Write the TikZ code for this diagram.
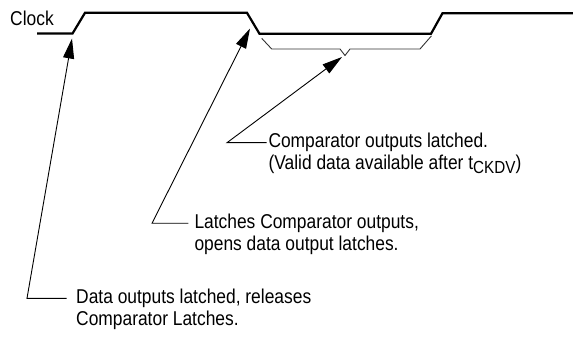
\documentclass[tikz,border=0pt]{standalone}
\usepackage{fontspec}
\setmainfont{Liberation Sans}[FakeStretch=0.87]
\usetikzlibrary{arrows.meta}
\tikzset{
  clockline/.style={line width=2.2pt, line join=miter},
  bracketline/.style={line width=0.9pt, black!80},
  conn/.style={line width=0.9pt, -{Triangle[length=20pt,width=11pt]}},
  lbl/.style={anchor=base west, inner sep=0pt, align=left, font=\fontsize{20}{22}\selectfont},
}
\begin{document}
\begin{tikzpicture}[x=1pt,y=-1pt]
\useasboundingbox (0,0) rectangle (573,339);
% clock waveform
\node[lbl] (clk) at (10,26) {Clock};
\draw[clockline] (37,33.6) -- (72.5,33.6) -- (85,12.8) -- (247,12.8) -- (259.5,33.8) -- (431,33.8) -- (442.5,13.2) -- (573,13.2);
% bracket under the low section
\draw[bracketline] (261.7,38.3) -- (271.7,49) -- (340,49) -- (345,55.5) -- (350,49) -- (420,49) -- (431.5,35.8);
% tips
\coordinate (tip1) at (72,38.5);
\coordinate (tip2) at (250,28.5);
\coordinate (tip3) at (342,57);
% corners
\coordinate (k1) at (27,298.3);
\coordinate (k2) at (152,223.3);
\coordinate (k3) at (227,142.7);
% texts (base anchor = baseline of last line)
\node[lbl] (t3) at (268.3,170) {Comparator outputs latched.\\(Valid data available after t\raisebox{-4pt}{\fontsize{17.5}{17.5}\selectfont CKDV})};
\node[lbl] (t2) at (194.3,251) {Latches Comparator outputs,\\opens data output latches.};
\node[lbl] (t1) at (76,325.5) {Data outputs latched, releases\\Comparator Latches.};
% connectors
\draw[conn] ([xshift=-1.6pt,yshift=27.3pt]t3.base west) -- (k3) -- (tip3);
\draw[conn] ([xshift=-6pt,yshift=27.7pt]t2.base west) -- (k2) -- (tip2);
\draw[conn] ([xshift=-9.3pt,yshift=27.2pt]t1.base west) -- (k1) -- (tip1);
\end{tikzpicture}
\end{document}
